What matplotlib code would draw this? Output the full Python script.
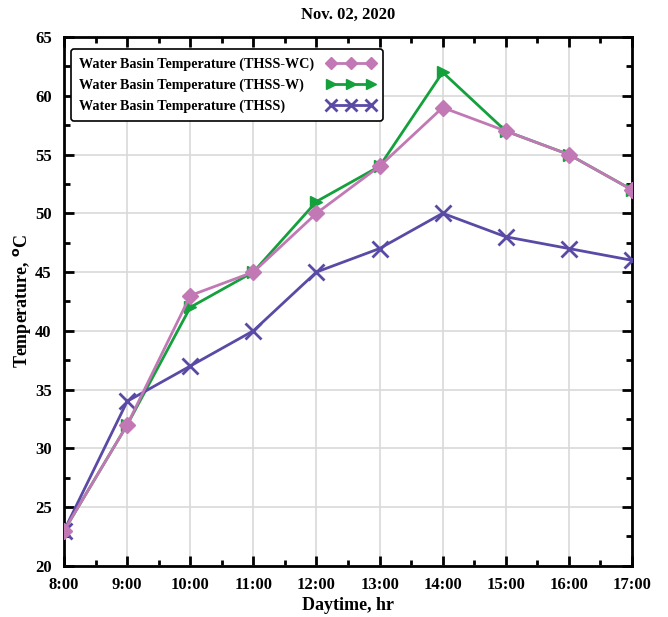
import matplotlib
matplotlib.use("Agg")
import matplotlib.pyplot as plt
from matplotlib.ticker import MultipleLocator, FixedLocator

plt.rcParams['font.family'] = ['Liberation Serif', 'DejaVu Serif']
plt.rcParams['font.weight'] = 'bold'

hours = [8, 9, 10, 11, 12, 13, 14, 15, 16, 17]
hour_labels = ['8:00', '9:00', '10:00', '11:00', '12:00', '13:00',
               '14:00', '15:00', '16:00', '17:00']
temp_thss_wc = [23, 32, 43, 45, 50, 54, 59, 57, 55, 52]
temp_thss_w = [23, 32, 42, 45, 51, 54, 62, 57, 55, 52]
temp_thss = [23, 34, 37, 40, 45, 47, 50, 48, 47, 46]

fig = plt.figure(figsize=(6.68, 6.17), dpi=100)
ax = fig.add_axes([0.096, 0.083, 0.850, 0.857])

l_wc, = ax.plot(hours, temp_thss_wc, color='#c178b4', marker='D', markersize=8,
                linewidth=2, zorder=5, label='Water Basin Temperature (THSS-WC)')
l_w, = ax.plot(hours, temp_thss_w, color='#14a03c', marker='>', markersize=9,
               linewidth=2, zorder=3, label='Water Basin Temperature (THSS-W)')
l_s, = ax.plot(hours, temp_thss, color='#5a4aa6', marker='x', markersize=11,
               markeredgewidth=2, linewidth=2, zorder=4,
               label='Water Basin Temperature (THSS)')

ax.set_xlim(8, 17)
ax.set_ylim(20, 65)
ax.xaxis.set_major_locator(FixedLocator(hours))
ax.set_xticklabels(hour_labels)
ax.xaxis.set_minor_locator(MultipleLocator(0.5))
ax.yaxis.set_major_locator(MultipleLocator(5))
ax.yaxis.set_minor_locator(MultipleLocator(2.5))

ax.grid(True, which='major', color='#d9d9d9', linewidth=1.2, zorder=0)
ax.set_axisbelow(True)
for s in ax.spines.values():
    s.set_linewidth(2)
ax.tick_params(which='both', direction='in', top=True, right=True,
               labelsize=12, width=2)
ax.tick_params(which='major', length=7)
ax.tick_params(which='minor', length=4)
ax.tick_params(axis='x', which='major', pad=8)
ax.tick_params(axis='y', which='major', pad=9)
for lbl in ax.get_xticklabels() + ax.get_yticklabels():
    lbl.set_fontweight('bold')

ax.set_xlabel('Daytime, hr', fontsize=13, fontweight='bold', labelpad=3)
ax.set_ylabel('Temperature, $^{\\mathrm{o}}$C', fontsize=13, fontweight='bold',
              labelpad=1)
ax.set_title('Nov. 02, 2020', fontsize=12, fontweight='bold', pad=13)

leg = ax.legend(handles=[l_wc, l_w, l_s], loc='upper left', numpoints=3,
                markerfirst=False, markerscale=0.8, fontsize=10.2,
                frameon=True, fancybox=True, borderpad=0.55,
                handlelength=3.4, labelspacing=0.55, handletextpad=0.9,
                bbox_to_anchor=(0.0, 0.99))
leg.get_frame().set_edgecolor('black')
leg.get_frame().set_linewidth(1.2)
leg.get_frame().set_alpha(1)
for t in leg.get_texts():
    t.set_fontweight('bold')

# left-align the labels while keeping the handles in one column on the right
fig.canvas.draw()
renderer = fig.canvas.get_renderer()
for col in leg._legend_handle_box.get_children():
    items = col.get_children()
    full = max(it.get_bbox(renderer).width for it in items)
    for it in items:
        it.width = full
        it.mode = 'expand'
    col.align = 'left'

fig.savefig('out.png', dpi=100)
